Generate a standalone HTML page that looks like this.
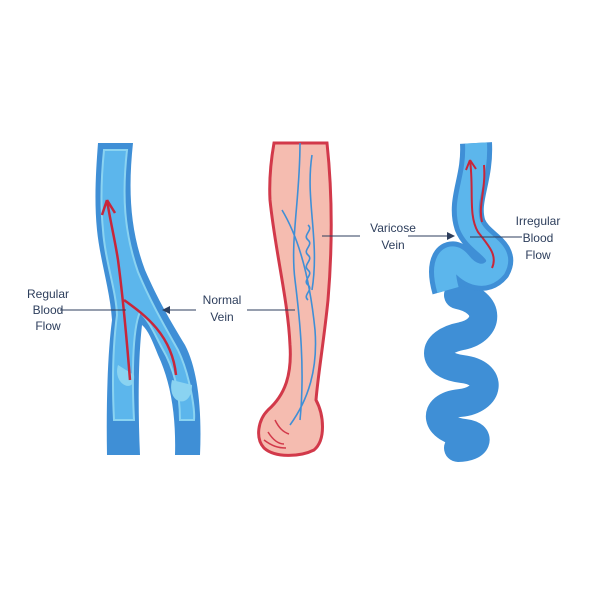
<!DOCTYPE html>
<html><head><style>body{margin:0;background:#fff}svg{display:block}text{font-family:"Liberation Sans",sans-serif;font-size:12px;fill:#2d3e5c;text-anchor:middle}</style></head>
<body>
<svg width="600" height="600" viewBox="0 0 600 600">
<!-- Left normal vein -->
<path d="M98 143 L133 143 C128 190 130 230 145 270 C158 300 170 320 185 345 C198 370 202 410 200 455 L175 455 C176 420 172 385 158 355 C152 340 148 330 142 325 C138 360 138 410 140 455 L107 455 C106 400 108 350 112 320 C110 290 100 260 97 230 C94 200 96 170 98 143Z" fill="#3f8fd6"/>
<path d="M104 150 L127 150 C122 195 124 232 138 272 C151 303 164 325 178 350 C190 375 195 410 194 420 L180 420 C180 395 175 370 162 348 C155 335 150 322 140 312 C132 330 132 380 134 420 L114 420 C112 380 113 345 117 315 C116 290 105 260 103 230 C100 200 102 170 104 150Z" fill="#5cb6ec" stroke="#8ad3f1" stroke-width="2"/>
<path d="M118 365 c-6 20 18 30 16 10" fill="#8ad3f1"/>
<path d="M172 380 c-6 25 20 30 20 5" fill="#8ad3f1"/>
<path d="M130 380 C126 330 122 290 118 260 C115 240 110 220 107 200 M107 200 l-5 15 M107 200 l8 13 M124 300 C145 315 172 335 176 375" fill="none" stroke="#c8263a" stroke-width="2.5"/>
<!-- Leg -->
<path d="M274 143 L327 143 C332 190 333 240 328 300 C324 340 318 375 316 400 C324 415 326 440 314 450 C300 457 275 458 264 448 C255 438 258 420 268 410 C285 395 292 375 290 345 C288 300 275 250 270 200 C269 180 271 160 274 143Z" fill="#f5bcb0" stroke="#d2394a" stroke-width="3"/>
<path d="M268 432 c5 8 10 12 16 12 M275 420 c4 8 8 12 14 14 M264 440 c8 6 14 8 22 8" fill="none" stroke="#d2394a" stroke-width="1.5"/>
<path d="M300 143 C300 200 290 240 295 280 C300 320 305 370 300 420 M282 210 C300 240 310 280 315 330 C318 370 308 400 290 425 M312 155 C305 200 320 240 312 290 M308 225 c6 5 -6 10 0 15 c6 5 -6 10 0 15 c6 5 -6 10 0 15 c6 5 -6 10 0 15 c6 5 -6 10 0 15" fill="none" stroke="#3f8fd6" stroke-width="1.6"/>
<!-- Varicose -->
<path d="M458 295 C492 302 490 330 462 336 C430 342 430 365 462 369 C495 373 490 400 460 403 C430 406 435 430 465 433 C482 435 478 448 458 448" fill="none" stroke="#3f8fd6" stroke-width="28" stroke-linecap="round"/>
<path d="M476 143 C478 180 462 200 470 225 C478 245 505 250 495 268 C485 280 470 275 460 262 C450 250 440 262 448 290" fill="none" stroke="#3f8fd6" stroke-width="32"/>
<path d="M476 143 C478 180 462 200 470 225 C478 245 505 250 495 268 C485 280 470 275 460 262 C450 250 440 262 448 290" fill="none" stroke="#5cb6ec" stroke-width="22"/>
<path d="M470 160 C474 190 468 215 478 232 C488 245 498 255 492 268 M484 165 C486 190 478 205 482 222 M470 160 l-4 10 M470 160 l6 9" fill="none" stroke="#c8263a" stroke-width="2"/>
<!-- Labels -->
<text x="48" y="298">Regular</text><text x="48" y="314">Blood</text><text x="48" y="330">Flow</text>
<line x1="60" y1="310" x2="126" y2="310" stroke="#2d3e5c"/>
<text x="222" y="304">Normal</text><text x="222" y="321">Vein</text>
<line x1="166" y1="310" x2="196" y2="310" stroke="#2d3e5c"/><line x1="247" y1="310" x2="295" y2="310" stroke="#2d3e5c"/>
<path d="M162 310 l8 -4 v8z" fill="#2d3e5c"/>
<text x="393" y="232">Varicose</text><text x="393" y="249">Vein</text>
<line x1="322" y1="236" x2="360" y2="236" stroke="#2d3e5c"/><line x1="408" y1="236" x2="448" y2="236" stroke="#2d3e5c"/>
<path d="M455 236 l-8 -4 v8z" fill="#2d3e5c"/>
<text x="538" y="225">Irregular</text><text x="538" y="242">Blood</text><text x="538" y="259">Flow</text>
<line x1="470" y1="237" x2="522" y2="237" stroke="#2d3e5c"/>
</svg>
</body></html>
